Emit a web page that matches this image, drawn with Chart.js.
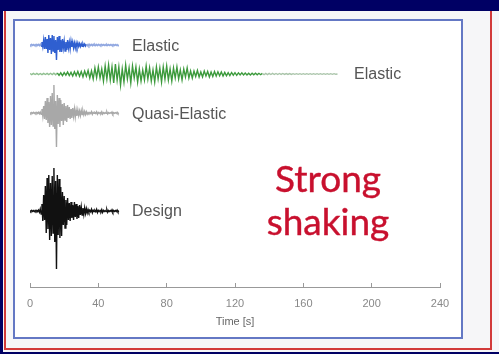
<!DOCTYPE html>
<html><head><meta charset="utf-8">
<script src="https://cdn.jsdelivr.net/npm/chart.js@4.4.0/dist/chart.umd.min.js"></script>
<style>
html,body{margin:0;padding:0;width:499px;height:354px;overflow:hidden;background:#000064;}
#sheet{position:absolute;left:3px;top:11px;width:496px;height:341px;background:#f6f6f8;}
#red{position:absolute;left:4px;top:11px;width:488px;height:339px;border:2px solid #d23a3a;border-top:none;box-sizing:border-box;}
#blue{position:absolute;left:13px;top:19px;width:450px;height:320px;border:2px solid #6478c4;box-sizing:border-box;background:#ffffff;}
#c{position:absolute;left:0;top:0;}
.lbl{position:absolute;font-family:'Liberation Sans',Arial,sans-serif;font-size:16px;line-height:16px;color:#555555;white-space:nowrap;}
#big{position:absolute;left:228px;top:156px;width:200px;text-align:center;font-family:Lato,'Open Sans',sans-serif;font-size:37px;line-height:43px;color:#c8102e;-webkit-text-stroke:0.4px #c8102e;}
</style>
</head><body>
<div id="sheet"></div>
<div id="red"></div>
<div id="blue"></div>
<canvas id="c" width="499" height="354"></canvas>
<div class="lbl" style="left:132px;top:38px">Elastic</div>
<div class="lbl" style="left:354px;top:66px">Elastic</div>
<div class="lbl" style="left:132px;top:106px">Quasi-Elastic</div>
<div class="lbl" style="left:132px;top:203px">Design</div>
<div id="big">Strong<br>shaking</div>
<script>
// Time axis ticks
const timeTicks = [0, 40, 80, 120, 160, 200, 240];
const traceNames = ['Elastic', 'Elastic', 'Quasi-Elastic', 'Design'];

// Sample spacing (s)
const dtShort = 0.5;
const dtLong = 1;

// Elastic (blue), amplitudes every 0.5 s from t = 0
const elasticShort = [
  0.5,-0.5,0.6,-0.5,0.5,-0.6,0.5,-0.5,0.6,-0.5,0.6,-0.6,0.9,-1.2,
  3,-2,5,-4,
  8,-4,6,-8,10,-5,7,-9,
  10,-6,9,-8,5,-15,8,-5,9,-7,
  5,-7,6,-3,4,-6,3,-5,5,-3,
  3,-4,4,-2,3,-3,2,-3,2,-2,
  2,-1.5,1.5,-1.5,1.2,-1.2,1.2,-1,1,-1,
  0.8,-0.8,0.7,-0.8,0.7,-0.6,0.6,-0.7,0.7,-0.6,0.6,-0.6,0.6,-0.6,0.6,-0.5,0.5,-0.5,0.6,-0.5,
  0.5,-0.5,0.5,-0.5,0.5,-0.5,0.5,-0.5,0.5,-0.5,0.5,-0.5,0.5,-0.5,0.5,-0.5,0.4,-0.4,0
];

// Elastic (green, long duration), amplitudes every 1 s from t = 0
const elasticLong = [
  0.5,-0.6,0.6,-0.5,0.6,-0.6,0.5,-0.6,0.6,-0.5,0.6,-0.6,0.7,-0.6,0.8,-0.7,
  1,-1.3,1.2,-1.6,1.4,-1.1,1.9,-1.5,1.6,-2,2.3,-1.6,2.6,-2.2,2.4,-2.8,3,-2.2,3.5,
  -4,3,-5,6,-3.5,7,-4,5,-7,8,-5,9,-6,7,-9,
  10,-6,7,-11,5,-8,9,-5,6,-9,8,-4,7,-8,5,
  -7,4,-6,8,-5,6,-7,4,-8,7,-5,6,-8,7,-5,
  8,-6,5,-7,6,-4,7,-5,4,-6,5,-3,6,-4,3,
  -4,3,-2.5,3.5,-3,2,-3,3,-2,2.5,-3,2,-2.5,2.5,-2,
  2.2,-1.8,2,-2,1.6,-1.8,1.4,-1.6,1.5,-1.2,1.3,-1.3,1.1,-1,1.1,
  -1,0.9,-0.9,0.8,-0.9,0.8,-0.8,0.7,-0.8,0.7,-0.7,0.6,-0.7,0.6,-0.6,0.6,-0.5,0.6,-0.5,0.5,-0.5,0.5,-0.4,0.5,-0.4,
  0.4,-0.4,0.4,-0.4,0.3,-0.3,0.3,-0.3,0.3,-0.3,0.3,-0.3,0.3,-0.3,0.3,-0.3,0.3,-0.3,0.3,-0.3,0.3,-0.3,0.3,-0.3,0.3,-0.3,0.3,-0.3,0.3,-0.3,0
];

// Quasi-Elastic (grey), every 0.5 s
const quasiElastic = [
  0.5,-0.5,0.5,-0.5,0.6,-0.5,0.5,-0.5,0.6,-0.5,0.7,-0.7,1,-1.4,
  4,-3,7,-6,
  12,-7,15,-10,11,-14,17,-12,
  20,-13,28,-16,12,-34,18,-11,15,-14,
  13,-8,9,-12,10,-7,7,-9,8,-5,
  6,-6,4,-5,5,-3,4,-4,3,-3,
  3,-2.5,2,-2.5,2.5,-1.5,2,-1.8,1.5,-1.5,
  1.2,-1.2,0.5,-0.5,0.5,-0.5,1.3,-1.3,0.5,-0.4,0.4,-0.5,1.2,-1.2,0.5,-0.4,0.4,-0.5,1.2,-1.1,
  0.4,-0.4,0.5,-0.4,1.1,-1,0.4,-0.4,0.4,-0.4,1,-1,0.4,-0.4,0.4,-0.4,0.8,-0.6,0
];

// Design (black), every 0.5 s
const design = [
  0.5,-0.5,0.6,-0.5,0.5,-0.6,0.6,-0.5,0.6,-0.7,0.9,-1.2,2,-3,
  7,-10,16,-9,
  25,-22,33,-18,36,-29,28,-25,
  35,-22,43,-31,30,-58,36,-24,32,-27,
  24,-25,19,-14,15,-17,11,-14,13,-9,
  8,-10,9,-7,6,-9,9,-6,7,-8,
  5,-7,6,-4,4,-4,3,-3.5,3,-2.5,
  2.2,-2,1.5,-1.2,0.8,-0.7,1.8,-1.8,0.7,-0.6,0.6,-0.7,1.6,-1.5,0.6,-0.6,0.6,-0.6,1.5,-1.4,
  0.6,-0.5,0.5,-0.6,1.4,-1.3,0.5,-0.5,0.5,-0.5,1.2,-1.1,0.5,-0.5,0.5,-0.5,1,-0.8,0
];

// Layout: baseline of each trace on the hidden vertical scale
function trace(vals, dt, base){ return vals.map((v,i)=>({x:i*dt, y:base+v})); }

const chart = new Chart(document.getElementById('c'), {
  type: 'line',
  data: {
    datasets: [
      {label: traceNames[0], data: trace(elasticShort, dtShort, 242), borderColor:'#2f5fd0',
        segment: { borderColor: ctx => (ctx.p0.parsed.x < 6.5 || ctx.p0.parsed.x >= 33) ? '#8fa6e0' : undefined }},
      {label: traceNames[1], data: trace(elasticLong, dtLong, 213), borderColor:'#3c9a3c',
        segment: { borderColor: ctx => ctx.p0.parsed.x >= 136 ? '#a9c4a9' : (ctx.p0.parsed.x < 16 ? '#8fbf8f' : undefined) }},
      {label: traceNames[2], data: trace(quasiElastic, dtShort, 174), borderColor:'#a8a8a8'},
      {label: traceNames[3], data: trace(design, dtShort, 76), borderColor:'#111111'}
    ]
  },
  options: {
    responsive: false,
    animation: false,
    events: [],
    datasets: { line: { pointRadius: 0, borderWidth: 1.4, tension: 0, fill: false } },
    layout: { padding: { left: 30, right: 59, top: 22, bottom: 17 } },
    plugins: { legend: { display: false }, tooltip: { enabled: false } },
    scales: {
      x: {
        type: 'linear', min: 0, max: 240,
        afterBuildTicks: s => { s.ticks = timeTicks.map(v => ({value: v})); },
        afterFit: s => { s.height = 50; },
        ticks: { color: '#888', font: { family: "'Liberation Sans', Arial, sans-serif", size: 11 }, padding: 14, maxRotation: 0 },
        grid: { display: true, drawOnChartArea: false, tickLength: -4, tickColor: '#999', tickWidth: 1 },
        border: { display: true, color: '#999', width: 1 },
        title: { display: true, text: 'Time [s]', color: '#666', font: { family: "'Liberation Sans', Arial, sans-serif", size: 11 }, padding: { top: 0, bottom: 8 } }
      },
      y: { type: 'linear', display: false, min: 0, max: 265 }
    }
  }
});
</script>
</body></html>
